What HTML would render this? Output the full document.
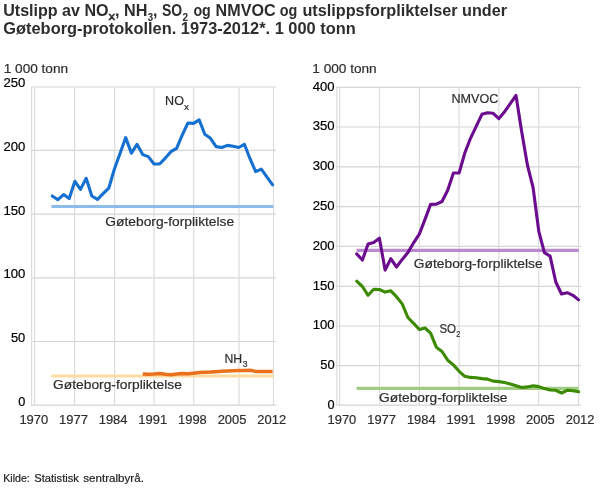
<!DOCTYPE html>
<html><head><meta charset="utf-8"><title>Utslipp</title>
<style>html,body{margin:0;padding:0;background:#fff;width:610px;height:488px;overflow:hidden}</style>
</head><body>
<svg width="610" height="488" viewBox="0 0 610 488" style="position:absolute;left:0;top:0;will-change:transform;font-family:'Liberation Sans',sans-serif">
<g stroke="#dcdcdc" stroke-width="1.2" fill="none">
<path d="M31,87.0H276" stroke="#d5d5d5"/>
<path d="M31,150.4H276" stroke="#d5d5d5"/>
<path d="M31,214.2H276" stroke="#d5d5d5"/>
<path d="M31,277.9H276" stroke="#d5d5d5"/>
<path d="M31,341.5H276" stroke="#d5d5d5"/>
<path d="M31,405.2H276" stroke="#d5d5d5"/>
<path d="M31.6,87V405.2"/>
<path d="M34.6,87V405.2"/>
<path d="M74.6,87V405.2"/>
<path d="M114.6,87V405.2"/>
<path d="M154.0,87V405.2"/>
<path d="M193.7,87V405.2"/>
<path d="M239.0,87V405.2"/>
<path d="M273.5,87V405.2"/>
<path d="M336.2,87.4H581" stroke="#d5d5d5"/>
<path d="M336.2,127.0H581" stroke="#d5d5d5"/>
<path d="M336.2,166.8H581" stroke="#d5d5d5"/>
<path d="M336.2,206.6H581" stroke="#d5d5d5"/>
<path d="M336.2,246.4H581" stroke="#d5d5d5"/>
<path d="M336.2,286.3H581" stroke="#d5d5d5"/>
<path d="M336.2,326.0H581" stroke="#d5d5d5"/>
<path d="M336.2,365.6H581" stroke="#d5d5d5"/>
<path d="M336.2,405.2H581" stroke="#d5d5d5"/>
<path d="M336.8,87.4V405.2"/>
<path d="M339.6,87.4V405.2"/>
<path d="M379.5,87.4V405.2"/>
<path d="M419.4,87.4V405.2"/>
<path d="M459.1,87.4V405.2"/>
<path d="M498.8,87.4V405.2"/>
<path d="M538.7,87.4V405.2"/>
<path d="M578.6,87.4V405.2"/>
</g>
<path d="M51.4,206.5H273.3" stroke="#8cbdea" stroke-width="2.9" fill="none"/>
<path d="M51.5,376.0H273.3" stroke="#fadd9f" stroke-width="3.2" fill="none"/>
<path d="M356.6,250.4H578.6" stroke="#bb89cf" stroke-width="3.2" fill="none"/>
<path d="M356.6,388.3H578.6" stroke="#9fcc82" stroke-width="3.2" fill="none"/>
<polyline points="52.3,196.0 57.9,199.7 63.6,194.6 69.2,198.5 74.9,181.3 80.5,189.4 86.2,178.3 91.8,196.0 97.5,199.4 103.1,193.7 108.8,188.1 114.4,169.0 120.1,153.3 125.7,137.6 131.4,153.1 137.0,144.3 142.7,154.6 148.3,156.6 154.0,164.0 159.6,164.0 165.3,158.1 170.9,151.7 176.6,148.3 182.2,135.1 187.9,123.0 193.5,123.4 199.2,119.9 204.8,134.3 210.5,138.3 216.1,146.6 221.8,147.5 227.4,145.4 233.1,146.3 238.7,147.5 244.4,144.3 250.0,158.7 255.7,171.7 261.3,169.2 267.0,177.2 272.6,184.8" stroke="#1570d2" fill="none" stroke-width="3.1" stroke-linejoin="round" stroke-linecap="round"/>
<polyline points="142.7,374.1 148.3,374.2 154.0,374.1 159.6,373.5 165.3,374.2 170.9,374.7 176.6,374.0 182.2,373.4 187.9,373.8 193.5,373.2 199.2,372.5 204.8,372.3 210.5,372.1 216.1,371.7 221.8,371.2 227.4,371.0 233.1,370.8 238.7,370.6 244.4,370.4 250.0,370.3 255.7,371.4 261.3,371.4 267.0,371.6 272.6,371.5" stroke="#e9711c" fill="none" stroke-width="3.5" stroke-linejoin="round" stroke-linecap="butt"/>
<polyline points="356.7,253.9 362.4,260.0 368.1,243.9 373.7,242.4 379.4,238.2 385.1,270.1 390.8,258.7 396.5,267.0 402.2,259.4 407.9,252.6 413.6,242.8 419.3,234.1 425.0,219.4 430.6,204.4 436.3,204.1 442.0,201.5 447.7,190.3 453.4,173.0 459.1,173.0 464.8,153.0 470.5,138.3 476.2,126.3 481.9,114.3 487.5,112.7 493.2,113.3 498.9,118.6 504.6,111.7 510.3,103.7 516.0,95.5 521.7,131.7 527.4,165.0 533.1,187.7 538.8,231.3 544.4,252.7 550.1,256.1 555.8,282.0 561.5,294.0 567.2,292.7 572.9,295.3 578.6,299.9" stroke="#6b0c8f" fill="none" stroke-width="3.1" stroke-linejoin="round" stroke-linecap="round"/>
<polyline points="356.7,281.2 362.4,286.5 368.1,295.3 373.7,289.2 379.4,289.5 385.1,292.1 390.8,290.8 396.5,296.7 402.2,303.9 407.9,317.5 413.6,323.3 419.3,329.5 425.0,328.0 430.6,333.2 436.3,347.2 442.0,351.5 447.7,360.2 453.4,364.9 459.1,371.3 464.8,376.3 470.5,377.4 476.2,377.7 481.9,378.6 487.5,379.1 493.2,381.1 498.9,381.6 504.6,382.5 510.3,384.1 516.0,385.8 521.7,387.5 527.4,386.9 533.1,385.8 538.8,386.6 544.4,388.6 550.1,390.0 555.8,390.3 561.5,393.0 567.2,390.3 572.9,390.8 578.6,391.7" stroke="#3c8a00" fill="none" stroke-width="3.1" stroke-linejoin="round" stroke-linecap="round"/>
<text x="3.2" y="15.8" font-size="15.6" fill="#2d2d2d" text-anchor="start" font-weight="bold" textLength="105.4" lengthAdjust="spacingAndGlyphs">Utslipp av NO</text>
<text x="108.5" y="20.4" font-size="11.0" fill="#2d2d2d" text-anchor="start" stroke="#2d2d2d" stroke-width="0.5" textLength="6.6" lengthAdjust="spacingAndGlyphs">x</text>
<text x="115.0" y="15.8" font-size="15.6" fill="#2d2d2d" text-anchor="start" font-weight="bold" textLength="32.4" lengthAdjust="spacingAndGlyphs">, NH</text>
<text x="147.7" y="20.5" font-size="10.6" fill="#2d2d2d" text-anchor="start" font-weight="bold" textLength="5.4" lengthAdjust="spacingAndGlyphs">3</text>
<text x="152.9" y="15.8" font-size="15.6" fill="#2d2d2d" text-anchor="start" font-weight="bold" textLength="4.4" lengthAdjust="spacingAndGlyphs">,</text>
<text x="162.0" y="15.8" font-size="15.6" fill="#2d2d2d" text-anchor="start" font-weight="bold" textLength="20.2" lengthAdjust="spacingAndGlyphs">SO</text>
<text x="182.6" y="20.5" font-size="10.6" fill="#2d2d2d" text-anchor="start" font-weight="bold" textLength="5.6" lengthAdjust="spacingAndGlyphs">2</text>
<text x="193.4" y="15.8" font-size="15.6" fill="#2d2d2d" text-anchor="start" font-weight="bold" textLength="17.4" lengthAdjust="spacingAndGlyphs">og</text>
<text x="215.6" y="15.8" font-size="15.6" fill="#2d2d2d" text-anchor="start" font-weight="bold" textLength="60.0" lengthAdjust="spacingAndGlyphs">NMVOC</text>
<text x="279.8" y="15.8" font-size="15.6" fill="#2d2d2d" text-anchor="start" font-weight="bold" textLength="17.6" lengthAdjust="spacingAndGlyphs">og</text>
<text x="302.4" y="15.8" font-size="15.6" fill="#2d2d2d" text-anchor="start" font-weight="bold" textLength="155.2" lengthAdjust="spacingAndGlyphs">utslippsforpliktelser</text>
<text x="462.1" y="15.8" font-size="15.6" fill="#2d2d2d" text-anchor="start" font-weight="bold" textLength="44.9" lengthAdjust="spacingAndGlyphs">under</text>
<text x="3.3" y="33.9" font-size="15.6" fill="#2d2d2d" text-anchor="start" font-weight="bold" textLength="352.4" lengthAdjust="spacingAndGlyphs">Gøteborg-protokollen. 1973-2012*. 1 000 tonn</text>
<text x="3.7" y="72.6" font-size="12.6" fill="#2e2e2e" text-anchor="start" stroke="#2e2e2e" stroke-width="0.2" textLength="64.4" lengthAdjust="spacingAndGlyphs">1 000 tonn</text>
<text x="312.3" y="72.6" font-size="12.6" fill="#2e2e2e" text-anchor="start" stroke="#2e2e2e" stroke-width="0.2" textLength="64.4" lengthAdjust="spacingAndGlyphs">1 000 tonn</text>
<text x="3.400000000000002" y="86.6" font-size="12.6" fill="#000" text-anchor="start" stroke="#000" stroke-width="0.2" textLength="21.9" lengthAdjust="spacingAndGlyphs">250</text>
<text x="3.400000000000002" y="150.7" font-size="12.6" fill="#000" text-anchor="start" stroke="#000" stroke-width="0.2" textLength="21.9" lengthAdjust="spacingAndGlyphs">200</text>
<text x="3.400000000000002" y="214.6" font-size="12.6" fill="#000" text-anchor="start" stroke="#000" stroke-width="0.2" textLength="21.9" lengthAdjust="spacingAndGlyphs">150</text>
<text x="3.400000000000002" y="278.3" font-size="12.6" fill="#000" text-anchor="start" stroke="#000" stroke-width="0.2" textLength="21.9" lengthAdjust="spacingAndGlyphs">100</text>
<text x="10.9" y="342.0" font-size="12.6" fill="#000" text-anchor="start" stroke="#000" stroke-width="0.2" textLength="14.4" lengthAdjust="spacingAndGlyphs">50</text>
<text x="18.200000000000003" y="405.5" font-size="12.6" fill="#000" text-anchor="start" stroke="#000" stroke-width="0.2" textLength="7.1" lengthAdjust="spacingAndGlyphs">0</text>
<text x="312.70000000000005" y="90.7" font-size="12.6" fill="#000" text-anchor="start" stroke="#000" stroke-width="0.2" textLength="21.9" lengthAdjust="spacingAndGlyphs">400</text>
<text x="312.70000000000005" y="130.48000000000002" font-size="12.6" fill="#000" text-anchor="start" stroke="#000" stroke-width="0.2" textLength="21.9" lengthAdjust="spacingAndGlyphs">350</text>
<text x="312.70000000000005" y="170.26" font-size="12.6" fill="#000" text-anchor="start" stroke="#000" stroke-width="0.2" textLength="21.9" lengthAdjust="spacingAndGlyphs">300</text>
<text x="312.70000000000005" y="210.04000000000002" font-size="12.6" fill="#000" text-anchor="start" stroke="#000" stroke-width="0.2" textLength="21.9" lengthAdjust="spacingAndGlyphs">250</text>
<text x="312.70000000000005" y="249.82" font-size="12.6" fill="#000" text-anchor="start" stroke="#000" stroke-width="0.2" textLength="21.9" lengthAdjust="spacingAndGlyphs">200</text>
<text x="312.70000000000005" y="289.6" font-size="12.6" fill="#000" text-anchor="start" stroke="#000" stroke-width="0.2" textLength="21.9" lengthAdjust="spacingAndGlyphs">150</text>
<text x="312.70000000000005" y="329.38" font-size="12.6" fill="#000" text-anchor="start" stroke="#000" stroke-width="0.2" textLength="21.9" lengthAdjust="spacingAndGlyphs">100</text>
<text x="320.20000000000005" y="369.16" font-size="12.6" fill="#000" text-anchor="start" stroke="#000" stroke-width="0.2" textLength="14.4" lengthAdjust="spacingAndGlyphs">50</text>
<text x="327.5" y="408.94" font-size="12.6" fill="#000" text-anchor="start" stroke="#000" stroke-width="0.2" textLength="7.1" lengthAdjust="spacingAndGlyphs">0</text>
<text x="19.4" y="423.9" font-size="12.6" fill="#2e2e2e" text-anchor="start" stroke="#2e2e2e" stroke-width="0.2" textLength="28.8" lengthAdjust="spacingAndGlyphs">1970</text>
<text x="327.5" y="423.8" font-size="12.6" fill="#2e2e2e" text-anchor="start" stroke="#2e2e2e" stroke-width="0.2" textLength="28.8" lengthAdjust="spacingAndGlyphs">1970</text>
<text x="59.04999999999999" y="423.9" font-size="12.6" fill="#2e2e2e" text-anchor="start" stroke="#2e2e2e" stroke-width="0.2" textLength="28.8" lengthAdjust="spacingAndGlyphs">1977</text>
<text x="367.2" y="423.8" font-size="12.6" fill="#2e2e2e" text-anchor="start" stroke="#2e2e2e" stroke-width="0.2" textLength="28.8" lengthAdjust="spacingAndGlyphs">1977</text>
<text x="98.69999999999999" y="423.9" font-size="12.6" fill="#2e2e2e" text-anchor="start" stroke="#2e2e2e" stroke-width="0.2" textLength="28.8" lengthAdjust="spacingAndGlyphs">1984</text>
<text x="406.9" y="423.8" font-size="12.6" fill="#2e2e2e" text-anchor="start" stroke="#2e2e2e" stroke-width="0.2" textLength="28.8" lengthAdjust="spacingAndGlyphs">1984</text>
<text x="138.35" y="423.9" font-size="12.6" fill="#2e2e2e" text-anchor="start" stroke="#2e2e2e" stroke-width="0.2" textLength="28.8" lengthAdjust="spacingAndGlyphs">1991</text>
<text x="446.6" y="423.8" font-size="12.6" fill="#2e2e2e" text-anchor="start" stroke="#2e2e2e" stroke-width="0.2" textLength="28.8" lengthAdjust="spacingAndGlyphs">1991</text>
<text x="177.99999999999997" y="423.9" font-size="12.6" fill="#2e2e2e" text-anchor="start" stroke="#2e2e2e" stroke-width="0.2" textLength="28.8" lengthAdjust="spacingAndGlyphs">1998</text>
<text x="486.3" y="423.8" font-size="12.6" fill="#2e2e2e" text-anchor="start" stroke="#2e2e2e" stroke-width="0.2" textLength="28.8" lengthAdjust="spacingAndGlyphs">1998</text>
<text x="217.65" y="423.9" font-size="12.6" fill="#2e2e2e" text-anchor="start" stroke="#2e2e2e" stroke-width="0.2" textLength="28.8" lengthAdjust="spacingAndGlyphs">2005</text>
<text x="526.0" y="423.8" font-size="12.6" fill="#2e2e2e" text-anchor="start" stroke="#2e2e2e" stroke-width="0.2" textLength="28.8" lengthAdjust="spacingAndGlyphs">2005</text>
<text x="257.3" y="423.9" font-size="12.6" fill="#2e2e2e" text-anchor="start" stroke="#2e2e2e" stroke-width="0.2" textLength="28.8" lengthAdjust="spacingAndGlyphs">2012</text>
<text x="565.7" y="423.8" font-size="12.6" fill="#2e2e2e" text-anchor="start" stroke="#2e2e2e" stroke-width="0.2" textLength="28.8" lengthAdjust="spacingAndGlyphs">2012</text>
<text x="165.1" y="105.0" font-size="12.9" fill="#2e2e2e" text-anchor="start" stroke="#2e2e2e" stroke-width="0.2" textLength="18.8" lengthAdjust="spacingAndGlyphs">NO</text>
<text x="184.0" y="109.9" font-size="9.2" fill="#2e2e2e" text-anchor="start" stroke="#2e2e2e" stroke-width="0.2" textLength="5.0" lengthAdjust="spacingAndGlyphs">x</text>
<text x="105.3" y="225.8" font-size="12.9" fill="#2e2e2e" text-anchor="start" stroke="#2e2e2e" stroke-width="0.2" textLength="128.9" lengthAdjust="spacingAndGlyphs">Gøteborg-forpliktelse</text>
<text x="53.1" y="388.8" font-size="12.9" fill="#2e2e2e" text-anchor="start" stroke="#2e2e2e" stroke-width="0.2" textLength="128.7" lengthAdjust="spacingAndGlyphs">Gøteborg-forpliktelse</text>
<text x="224.4" y="362.8" font-size="12.9" fill="#2e2e2e" text-anchor="start" stroke="#2e2e2e" stroke-width="0.2" textLength="17.7" lengthAdjust="spacingAndGlyphs">NH</text>
<text x="242.7" y="366.9" font-size="8.8" fill="#2e2e2e" text-anchor="start" stroke="#2e2e2e" stroke-width="0.2" textLength="4.8" lengthAdjust="spacingAndGlyphs">3</text>
<text x="451.5" y="103.0" font-size="12.9" fill="#2e2e2e" text-anchor="start" stroke="#2e2e2e" stroke-width="0.2" textLength="46.9" lengthAdjust="spacingAndGlyphs">NMVOC</text>
<text x="413.8" y="267.5" font-size="12.9" fill="#2e2e2e" text-anchor="start" stroke="#2e2e2e" stroke-width="0.2" textLength="128.8" lengthAdjust="spacingAndGlyphs">Gøteborg-forpliktelse</text>
<text x="439.4" y="333.0" font-size="12.9" fill="#2e2e2e" text-anchor="start" stroke="#2e2e2e" stroke-width="0.2" textLength="16.7" lengthAdjust="spacingAndGlyphs">SO</text>
<text x="456.3" y="336.9" font-size="8.6" fill="#2e2e2e" text-anchor="start" stroke="#2e2e2e" stroke-width="0.2" textLength="4.0" lengthAdjust="spacingAndGlyphs">2</text>
<text x="379.1" y="401.9" font-size="12.9" fill="#2e2e2e" text-anchor="start" stroke="#2e2e2e" stroke-width="0.2" textLength="128.4" lengthAdjust="spacingAndGlyphs">Gøteborg-forpliktelse</text>
<text x="3.2" y="481.8" font-size="11.7" fill="#222" text-anchor="start" stroke="#222" stroke-width="0.2" textLength="26.6" lengthAdjust="spacingAndGlyphs">Kilde:</text>
<text x="34.3" y="481.8" font-size="11.7" fill="#222" text-anchor="start" stroke="#222" stroke-width="0.2" textLength="44.6" lengthAdjust="spacingAndGlyphs">Statistisk</text>
<text x="83.2" y="481.8" font-size="11.7" fill="#222" text-anchor="start" stroke="#222" stroke-width="0.2" textLength="60.7" lengthAdjust="spacingAndGlyphs">sentralbyrå.</text>
</svg>
</body></html>
